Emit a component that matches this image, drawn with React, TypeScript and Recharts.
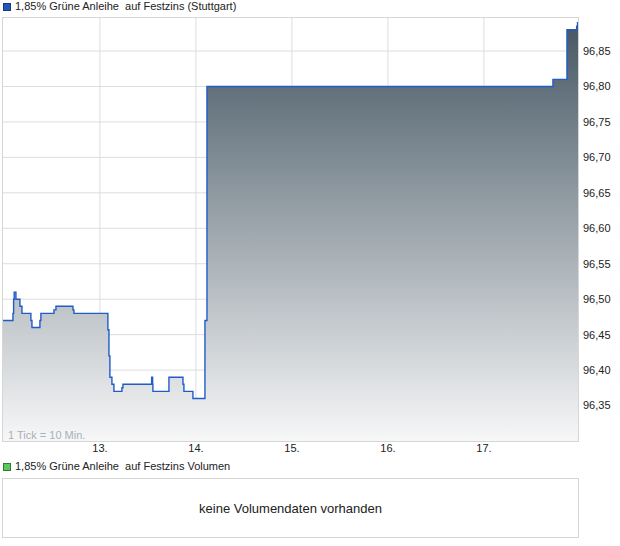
import React from 'react';
import { AreaChart, Area, XAxis, YAxis, CartesianGrid } from 'recharts';

// time in day-of-month units (fractional), price in EUR
const times = [
  11.98, 12.094, 12.101, 12.107, 12.125, 12.167, 12.188, 12.281, 12.292, 12.375,
  12.385, 12.521, 12.542, 12.719, 12.729, 13.083, 13.094, 13.104, 13.125, 13.146,
  13.229, 13.24, 13.539, 13.549, 13.552, 13.719, 13.865, 13.875, 13.969, 14.094,
  14.115, 17.719, 17.865, 17.966, 17.975, 17.99,
];
const prices = [
  96.47, 96.48, 96.5, 96.51, 96.5, 96.49, 96.48, 96.47, 96.46, 96.47,
  96.48, 96.485, 96.49, 96.485, 96.48, 96.457, 96.42, 96.39, 96.38, 96.37,
  96.375, 96.38, 96.39, 96.38, 96.37, 96.39, 96.38, 96.37, 96.36, 96.47,
  96.8, 96.81, 96.88, 96.885, 96.89, 96.89,
];
const dayTicks = [13, 14, 15, 16, 17];
const priceTicks = [96.35, 96.4, 96.45, 96.5, 96.55, 96.6, 96.65, 96.7, 96.75, 96.8, 96.85];

const data = times.map((t, i) => ({ t, price: prices[i] }));

const font = '"Liberation Sans", Arial, sans-serif';

const App = () => {
  return (
    <div style={{ position: 'absolute', left: 0, top: 0, width: 620, height: 546, fontFamily: font, background: '#fff' }}>
      {/* legend top */}
      <div style={{ position: 'absolute', left: 3, top: 3, width: 6, height: 6, background: '#2458b8', border: '1px solid #1a3a80' }} />
      <div style={{ position: 'absolute', left: 15, top: 0, fontSize: 11, color: '#222', lineHeight: '13px' }}>
        1,85% Grüne Anleihe&nbsp; auf Festzins (Stuttgart)
      </div>

      <AreaChart
        width={620}
        height={460}
        data={data}
        margin={{ top: 17, right: 2, left: 2, bottom: 0 }}
        style={{ position: 'absolute', left: 0, top: 0 }}
      >
        <defs>
          <linearGradient id="priceFill" x1="0" y1="0" x2="0" y2="1">
            <stop offset="0%" stopColor="#465864" />
            <stop offset="100%" stopColor="#f7f7f8" />
          </linearGradient>
        </defs>
        <CartesianGrid stroke="#dddddd" horizontalValues={priceTicks} verticalValues={dayTicks} />
        <XAxis
          dataKey="t"
          type="number"
          domain={[11.98, 17.98]}
          ticks={dayTicks}
          tickFormatter={(d: number) => `${d}.`}
          axisLine={false}
          tickLine={false}
          tickSize={0}
          tickMargin={3}
          height={19}
          allowDataOverflow
          tick={{ fill: '#222', fontSize: 11, fontFamily: font }}
        />
        <YAxis
          orientation="right"
          type="number"
          domain={[96.3, 96.898]}
          ticks={priceTicks}
          tickFormatter={(v: number) => v.toFixed(2).replace('.', ',')}
          axisLine={false}
          tickLine={false}
          tickSize={3}
          tickMargin={2}
          width={40}
          allowDataOverflow
          tick={{ fill: '#222', fontSize: 11, fontFamily: font }}
        />
        <Area
          type="stepAfter"
          dataKey="price"
          stroke="#1f5cc8"
          strokeWidth={1.4}
          fill="url(#priceFill)"
          fillOpacity={1}
          baseValue="dataMin"
          isAnimationActive={false}
          dot={false}
          activeDot={false}
        />
      </AreaChart>

      {/* plot border */}
      <div style={{ position: 'absolute', left: 2, top: 17, width: 575, height: 423, border: '1px solid #d6d6d6', pointerEvents: 'none' }} />
      <div style={{ position: 'absolute', left: 8, top: 429, fontSize: 11, color: '#a8b0ba' }}>1 Tick = 10 Min.</div>

      {/* volume panel */}
      <div style={{ position: 'absolute', left: 3, top: 463, width: 6, height: 6, background: '#5cc85c', border: '1px solid #2e7d32' }} />
      <div style={{ position: 'absolute', left: 15, top: 460, fontSize: 11, color: '#222', lineHeight: '13px' }}>
        1,85% Grüne Anleihe&nbsp; auf Festzins Volumen
      </div>
      <div
        style={{
          position: 'absolute', left: 2, top: 478, width: 575, height: 58,
          border: '1px solid #d6d6d6', display: 'flex', alignItems: 'center', justifyContent: 'center',
          fontSize: 13, color: '#222',
        }}
      >
        keine Volumendaten vorhanden
      </div>
    </div>
  );
};

export default App;
